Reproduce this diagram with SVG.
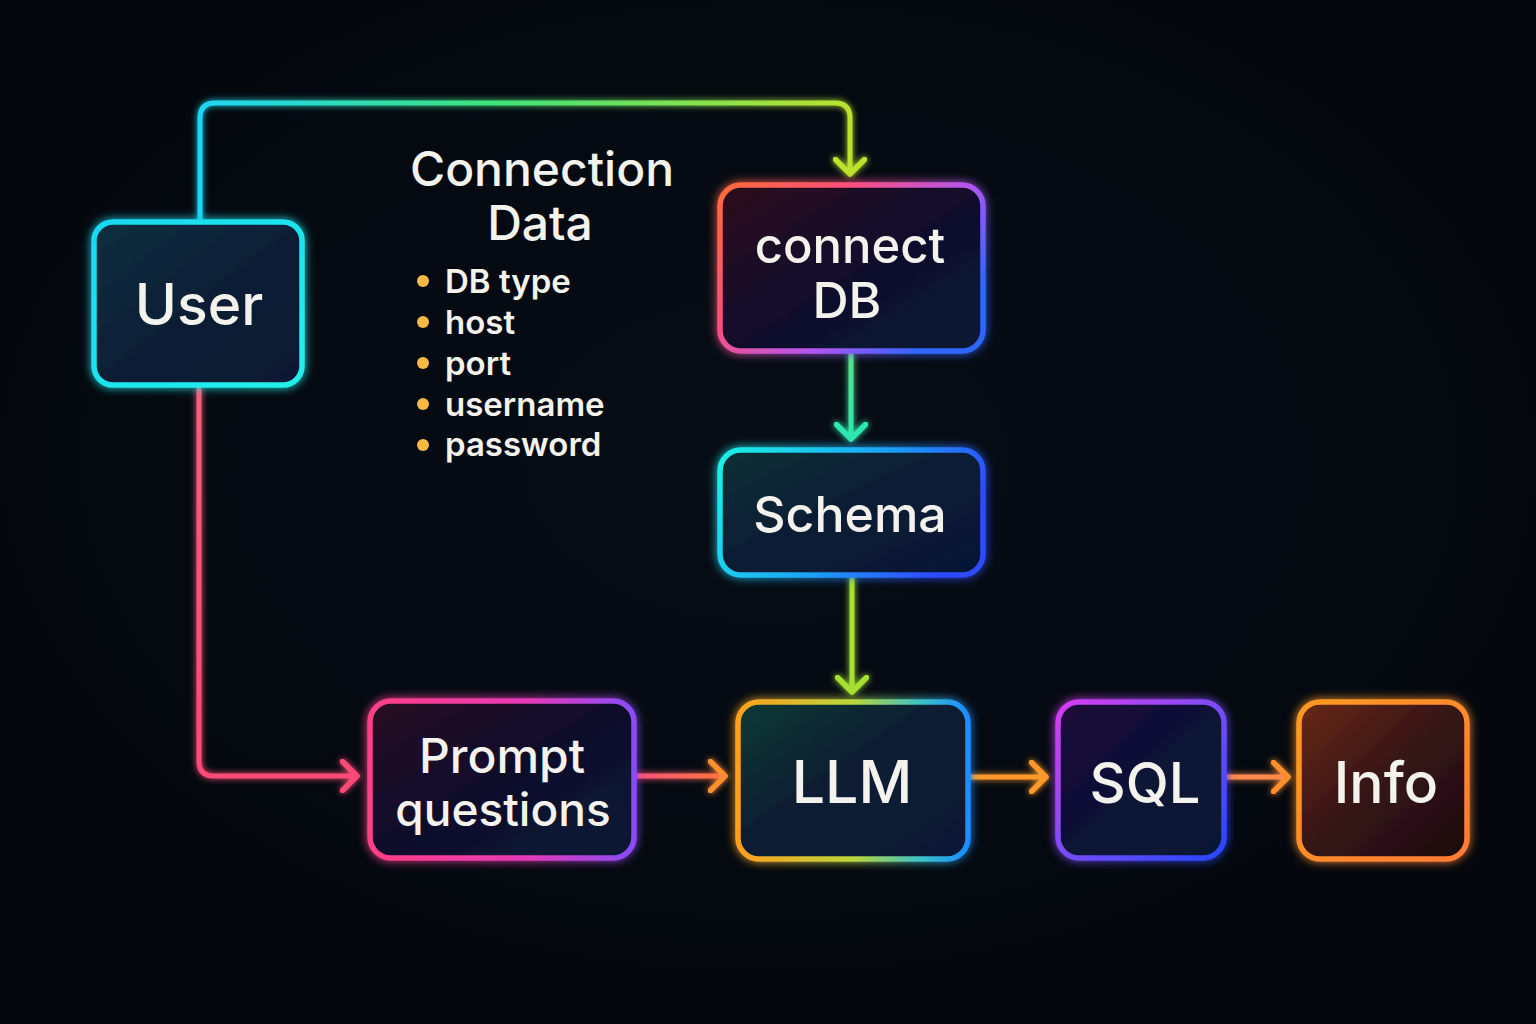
<svg xmlns="http://www.w3.org/2000/svg" width="1536" height="1024" viewBox="0 0 1536 1024">
<defs>
<style>
.lbl{font-family:Inter,"Noto Sans","Liberation Sans",sans-serif;font-weight:500;fill:#f3f2ec;text-anchor:middle}
.bul{font-family:Inter,"Noto Sans","Liberation Sans",sans-serif;font-weight:600;fill:#f3f2ec;font-size:33px}
.box{stroke-width:5.5;filter:url(#glow)}
.con{fill:none;stroke-width:5;stroke-linecap:round;stroke-linejoin:round;filter:url(#glow2)}
.dot{fill:#f7b945}
</style>
<radialGradient id="bg" cx="0.5" cy="0.45" r="0.75">
<stop offset="0" stop-color="#070d16"/>
<stop offset="1" stop-color="#03060b"/>
</radialGradient>
<filter id="glow" x="-20%" y="-20%" width="140%" height="140%">
<feGaussianBlur in="SourceGraphic" stdDeviation="5" result="b"/>
<feMerge><feMergeNode in="b"/><feMergeNode in="SourceGraphic"/></feMerge>
</filter>
<filter id="glow2" filterUnits="userSpaceOnUse" x="0" y="0" width="1536" height="1024">
<feGaussianBlur in="SourceGraphic" stdDeviation="3" result="b"/>
<feMerge><feMergeNode in="b"/><feMergeNode in="SourceGraphic"/></feMerge>
</filter>
<linearGradient id="sUser" x1="0" y1="0" x2="1" y2="1"><stop offset="0" stop-color="#19d8f0"/><stop offset="1" stop-color="#22f0ea"/></linearGradient>
<linearGradient id="sConn" x1="0" y1="0" x2="1" y2="0.6"><stop offset="0" stop-color="#ff6a3a"/><stop offset="0.35" stop-color="#ff4f7a"/><stop offset="0.7" stop-color="#b455f0"/><stop offset="1" stop-color="#2f66ff"/></linearGradient>
<linearGradient id="sSchema" x1="0" y1="0" x2="1" y2="0.3"><stop offset="0" stop-color="#1ef2e6"/><stop offset="0.55" stop-color="#1aa8f5"/><stop offset="1" stop-color="#2f4cff"/></linearGradient>
<linearGradient id="sLLM" x1="0" y1="0" x2="1" y2="0"><stop offset="0" stop-color="#ff9f1f"/><stop offset="0.5" stop-color="#b9d63a"/><stop offset="0.8" stop-color="#3ac0c8"/><stop offset="1" stop-color="#1a8cff"/></linearGradient>
<linearGradient id="sPrompt" x1="0" y1="0" x2="1" y2="0"><stop offset="0" stop-color="#ff3f86"/><stop offset="0.6" stop-color="#e43ab8"/><stop offset="1" stop-color="#8a4cf7"/></linearGradient>
<linearGradient id="sSQL" x1="0" y1="0" x2="1" y2="1"><stop offset="0" stop-color="#d83df0"/><stop offset="0.5" stop-color="#7a4cf5"/><stop offset="1" stop-color="#2446ff"/></linearGradient>
<linearGradient id="sInfo" x1="0" y1="0" x2="1" y2="1"><stop offset="0" stop-color="#ff9a22"/><stop offset="1" stop-color="#ff7b35"/></linearGradient>
<linearGradient id="fUser" x1="0" y1="0" x2="1" y2="1"><stop offset="0" stop-color="#0d3040"/><stop offset="0.5" stop-color="#0a1f36"/><stop offset="1" stop-color="#071830"/></linearGradient>
<linearGradient id="fConn" x1="0" y1="0" x2="1" y2="1"><stop offset="0" stop-color="#2e0f1c"/><stop offset="0.5" stop-color="#120f2c"/><stop offset="1" stop-color="#061634"/></linearGradient>
<linearGradient id="fSchema" x1="0" y1="0" x2="1" y2="1"><stop offset="0" stop-color="#0b3036"/><stop offset="0.5" stop-color="#081c34"/><stop offset="1" stop-color="#061636"/></linearGradient>
<linearGradient id="fLLM" x1="0" y1="0" x2="1" y2="1"><stop offset="0" stop-color="#0b3a34"/><stop offset="0.45" stop-color="#081d32"/><stop offset="1" stop-color="#071834"/></linearGradient>
<linearGradient id="fPrompt" x1="0" y1="0" x2="1" y2="1"><stop offset="0" stop-color="#2a0b22"/><stop offset="0.5" stop-color="#0f0f2c"/><stop offset="1" stop-color="#061634"/></linearGradient>
<linearGradient id="fSQL" x1="0" y1="0" x2="1" y2="1"><stop offset="0" stop-color="#1e0a3a"/><stop offset="0.5" stop-color="#0a1236"/><stop offset="1" stop-color="#061636"/></linearGradient>
<linearGradient id="fInfo" x1="0" y1="0" x2="1" y2="1"><stop offset="0" stop-color="#6a2812"/><stop offset="0.5" stop-color="#351414"/><stop offset="1" stop-color="#1c0c10"/></linearGradient>
<linearGradient id="cTop" gradientUnits="userSpaceOnUse" x1="200" y1="0" x2="860" y2="0"><stop offset="0" stop-color="#1fd6f5"/><stop offset="0.45" stop-color="#3fe27a"/><stop offset="1" stop-color="#bde22a"/></linearGradient>
<linearGradient id="cPQ" gradientUnits="userSpaceOnUse" x1="634" y1="0" x2="728" y2="0"><stop offset="0" stop-color="#ff4f7f"/><stop offset="1" stop-color="#ff7a3a"/></linearGradient>
<linearGradient id="cCS" gradientUnits="userSpaceOnUse" x1="0" y1="352" x2="0" y2="442"><stop offset="0" stop-color="#5ae08a"/><stop offset="1" stop-color="#2ee6b0"/></linearGradient>
<linearGradient id="cUP" gradientUnits="userSpaceOnUse" x1="0" y1="388" x2="0" y2="780"><stop offset="0" stop-color="#f0607a"/><stop offset="1" stop-color="#ff4a78"/></linearGradient>
<marker id="mLime" viewBox="0 0 20 34" refX="17" refY="17" markerWidth="20" markerHeight="34" markerUnits="userSpaceOnUse" orient="auto"><path d="M2.5,2.5 L17,17 L2.5,31.5" fill="none" stroke="#bde22a" stroke-width="5.5" stroke-linecap="round" stroke-linejoin="round"/></marker>
<marker id="mTeal" viewBox="0 0 20 34" refX="17" refY="17" markerWidth="20" markerHeight="34" markerUnits="userSpaceOnUse" orient="auto"><path d="M2.5,2.5 L17,17 L2.5,31.5" fill="none" stroke="#2ee6b0" stroke-width="5.5" stroke-linecap="round" stroke-linejoin="round"/></marker>
<marker id="mGreen" viewBox="0 0 20 34" refX="17" refY="17" markerWidth="20" markerHeight="34" markerUnits="userSpaceOnUse" orient="auto"><path d="M2.5,2.5 L17,17 L2.5,31.5" fill="none" stroke="#a6e030" stroke-width="5.5" stroke-linecap="round" stroke-linejoin="round"/></marker>
<marker id="mPink" viewBox="0 0 20 34" refX="17" refY="17" markerWidth="20" markerHeight="34" markerUnits="userSpaceOnUse" orient="auto"><path d="M2.5,2.5 L17,17 L2.5,31.5" fill="none" stroke="#ff4a78" stroke-width="5.5" stroke-linecap="round" stroke-linejoin="round"/></marker>
<marker id="mOrange" viewBox="0 0 20 34" refX="17" refY="17" markerWidth="20" markerHeight="34" markerUnits="userSpaceOnUse" orient="auto"><path d="M2.5,2.5 L17,17 L2.5,31.5" fill="none" stroke="#ff8f2e" stroke-width="5.5" stroke-linecap="round" stroke-linejoin="round"/></marker>
<marker id="mOrange2" viewBox="0 0 20 34" refX="17" refY="17" markerWidth="20" markerHeight="34" markerUnits="userSpaceOnUse" orient="auto"><path d="M2.5,2.5 L17,17 L2.5,31.5" fill="none" stroke="#ff9a2a" stroke-width="5.5" stroke-linecap="round" stroke-linejoin="round"/></marker>
</defs>

<rect x="0" y="0" width="1536" height="1024" fill="url(#bg)"/>

<g id="connectors">
<path class="con" d="M200,220 L200,118 Q200,103 215,103 L835,103 Q850,103 850,118 L850,174" stroke="url(#cTop)" marker-end="url(#mLime)"/>
<path class="con" d="M851,353 L851,439" stroke="url(#cCS)" marker-end="url(#mTeal)"/>
<path class="con" d="M852,577 L852,692" stroke="#a6e030" marker-end="url(#mGreen)"/>
<path class="con" d="M199,389 L199,761 Q199,776 214,776 L357,776" stroke="url(#cUP)" marker-end="url(#mPink)"/>
<path class="con" d="M636,776 L725,776" stroke="url(#cPQ)" marker-end="url(#mOrange)"/>
<path class="con" d="M970,777 L1046,777" stroke="#ff9a2a" marker-end="url(#mOrange2)"/>
<path class="con" d="M1226,777 L1288,777" stroke="#ff8a4a" marker-end="url(#mOrange)"/>
</g>

<g id="user">
<rect class="box" x="94" y="222" width="208" height="163" rx="19" fill="url(#fUser)" stroke="url(#sUser)"/>
<text class="lbl" x="199" y="325" font-size="57">User</text>
</g>

<g id="connection-data">
<text class="lbl" x="542" y="186" font-size="48">Connection</text>
<text class="lbl" x="540" y="240" font-size="48">Data</text>
<circle class="dot" cx="423" cy="281" r="6"/>
<circle class="dot" cx="423" cy="322" r="6"/>
<circle class="dot" cx="423" cy="363" r="6"/>
<circle class="dot" cx="423" cy="404" r="6"/>
<circle class="dot" cx="423" cy="445" r="6"/>
<text class="bul" x="445" y="293">DB type</text>
<text class="bul" x="445" y="334">host</text>
<text class="bul" x="445" y="375">port</text>
<text class="bul" x="445" y="416">username</text>
<text class="bul" x="445" y="456">password</text>
</g>

<g id="connect-db">
<rect class="box" x="720" y="185" width="263" height="166" rx="21" fill="url(#fConn)" stroke="url(#sConn)"/>
<text class="lbl" x="850" y="263" font-size="49">connect</text>
<text class="lbl" x="847" y="318" font-size="50">DB</text>
</g>

<g id="schema">
<rect class="box" x="720" y="450" width="263" height="125" rx="21" fill="url(#fSchema)" stroke="url(#sSchema)"/>
<text class="lbl" x="850" y="532" font-size="50">Schema</text>
</g>

<g id="prompt">
<rect class="box" x="370" y="701" width="264" height="157" rx="21" fill="url(#fPrompt)" stroke="url(#sPrompt)"/>
<text class="lbl" x="502" y="773" font-size="48">Prompt</text>
<text class="lbl" x="503" y="826" font-size="46">questions</text>
</g>

<g id="llm">
<rect class="box" x="738" y="702" width="230" height="157" rx="21" fill="url(#fLLM)" stroke="url(#sLLM)"/>
<text class="lbl" x="852" y="803" font-size="59">LLM</text>
</g>

<g id="sql">
<rect class="box" x="1058" y="702" width="166" height="156" rx="21" fill="url(#fSQL)" stroke="url(#sSQL)"/>
<text class="lbl" x="1145" y="803" font-size="56">SQL</text>
</g>

<g id="info">
<rect class="box" x="1299" y="702" width="168" height="157" rx="21" fill="url(#fInfo)" stroke="url(#sInfo)"/>
<text class="lbl" x="1386" y="803" font-size="57">Info</text>
</g>
</svg>
